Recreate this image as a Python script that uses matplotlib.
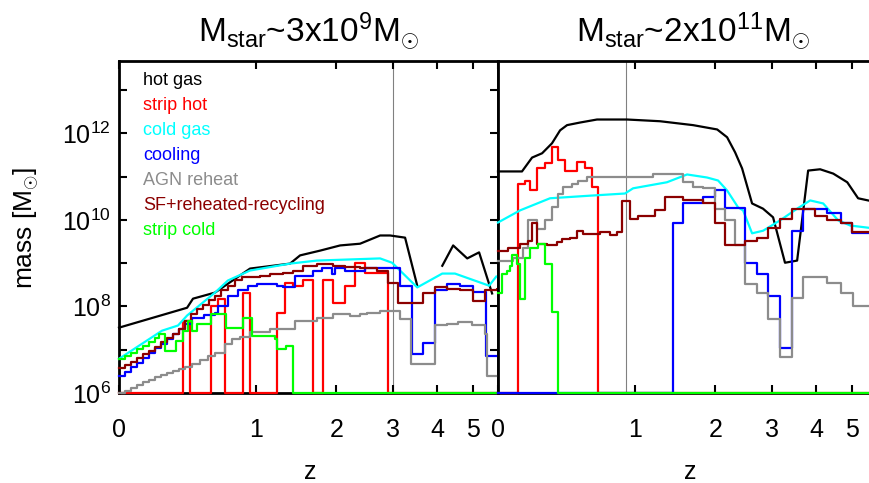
import numpy as np
import matplotlib
matplotlib.use("Agg")
import matplotlib.pyplot as plt

plt.rcParams['font.family'] = ['Liberation Sans', 'DejaVu Sans']
plt.rcParams['mathtext.fontset'] = 'custom'
plt.rcParams['mathtext.rm'] = 'Liberation Sans'
plt.rcParams['mathtext.it'] = 'Liberation Sans:italic'
plt.rcParams['mathtext.bf'] = 'Liberation Sans:bold'

# ---------------- left panel: Mstar ~ 3e9 (z, log10 mass) ----------------
hot_l_z = [0, 0.411, 0.454, 0.625, 0.940, 1.375, 1.499, 1.765, 2.06, 2.385, 2.746, 2.94, 3.25, 3.52,
           3.80, 4.13, 4.42, 4.82, 5.18, 5.60]
hot_l_m = [7.51, 7.97, 8.18, 8.32, 8.875, 8.99, 9.18, 9.29, 9.41, 9.45, 9.64, 9.64, 9.59, 8.48,
           np.nan, 8.94, 9.41, 9.11, 9.25, 8.30]

cold_l_z = [0, 0.243, 0.348, 0.411, 0.625, 0.735, 0.940, 1.375, 1.72, 2.746, 2.98, 3.52, 4.13, 4.47, 5.50, 5.74]
cold_l_m = [6.79, 7.44, 7.56, 7.79, 8.32, 8.60, 8.83, 8.99, 9.06, 9.11, 9.01, 8.44, 8.76, 8.76, 8.48, 8.69]

striphot_l_z = [0, 0.382, 0.432, 0.593, 0.650, 0.710, 0.873, 0.940, 1.224, 1.316, 1.412, 1.537, 1.668,
                1.807, 1.953, 2.14, 2.30, 2.47, 2.90]
striphot_l_m = [6.0, 7.67, 6.0, 8.00, 8.18, 6.0, 8.30, 6.0, 7.86, 8.55, 8.48, 8.60, 6.0,
                8.60, 8.09, 8.48, 9.01, 8.78, 6.0]

cool_l_z = [0, 0.031, 0.063, 0.095, 0.129, 0.164, 0.200, 0.237, 0.275, 0.314,
            0.355, 0.396, 0.446, 0.537, 0.625, 0.650, 0.735, 0.826, 0.920, 1.010,
            1.224, 1.293, 1.436, 1.668, 1.793, 1.938, 1.983, 2.14, 2.47, 2.71,
            3.15, 3.40, 3.66, 3.95, 4.26, 4.62, 5.00, 5.40]
cool_l_m = [6.40, 6.49, 6.61, 6.70, 6.81, 6.93, 7.05, 7.14, 7.25, 7.37,
            7.49, 7.60, 7.74, 7.81, 7.86, 8.02, 8.25, 8.37, 8.48, 8.53,
            8.48, 8.44, 8.71, 8.83, 8.88, 8.76, 8.88, 8.83, 8.88, 8.90,
            8.48, 6.91, 7.16, 8.37, 8.53, 8.48, 8.34, 6.86]

agn_l_z = [0, 0.031, 0.063, 0.095, 0.129, 0.164, 0.200, 0.237, 0.275, 0.314,
           0.355, 0.396, 0.446, 0.507, 0.569, 0.625, 0.710, 0.771, 0.844, 0.940,
           1.146, 1.436, 1.72, 1.953, 2.22, 2.385, 2.50, 2.746, 3.15, 3.38,
           3.95, 4.26, 4.56, 4.97, 5.37, 5.44]
agn_l_m = [6.0, 6.05, 6.12, 6.19, 6.26, 6.31, 6.38, 6.42, 6.47, 6.51,
           6.56, 6.61, 6.68, 6.77, 6.86, 6.93, 7.14, 7.25, 7.30, 7.42,
           7.49, 7.67, 7.74, 7.83, 7.79, 7.83, 7.86, 7.90, 7.72, 6.68,
           7.56, 7.60, 7.63, 7.56, 7.37, 6.40]

sf_l_z = [0, 0.031, 0.063, 0.095, 0.129, 0.164, 0.200, 0.237, 0.275, 0.314,
          0.355, 0.396, 0.439, 0.484, 0.529, 0.577, 0.625, 0.675, 0.735, 0.798,
          0.863, 0.940, 1.041, 1.146, 1.293, 1.412, 1.537, 1.72, 1.953, 2.14,
          2.385, 2.69, 2.90, 3.10, 3.66, 3.95, 4.26, 4.62, 5.00, 5.37, 5.75]
sf_l_m = [6.58, 6.65, 6.72, 6.81, 6.91, 6.98, 7.07, 7.19, 7.28, 7.37,
          7.49, 7.67, 7.83, 7.93, 8.04, 8.16, 8.25, 8.37, 8.48, 8.60,
          8.67, 8.69, 8.71, 8.74, 8.78, 8.83, 8.94, 8.97, 8.94, 8.92,
          8.88, 8.83, 8.55, 8.09, 8.32, 8.44, 8.41, 8.37, 8.13, 8.37, 8.41]

stripcold_l_z = [0, 0.031, 0.063, 0.095, 0.129, 0.164, 0.200, 0.224, 0.262, 0.335,
                 0.382, 0.418, 0.446, 0.484, 0.593, 0.718, 0.873, 0.960, 1.201, 1.224,
                 1.328, 1.412]
stripcold_l_m = [6.79, 6.86, 6.93, 7.02, 7.09, 7.19, 7.28, 7.37, 6.98, 7.21,
                 7.44, 7.67, 7.44, 7.60, 7.83, 7.51, 7.74, 7.32, 7.25, 7.02,
                 7.09, 6.0]

# ---------------- right panel: Mstar ~ 2e11 ----------------
hot_r_z = [0, 0.129, 0.188, 0.250, 0.314, 0.369, 0.418, 0.514, 0.650, 0.920,
           1.27, 1.682, 2.03, 2.186, 2.318, 2.437, 2.615, 2.82, 3.02, 3.27,
           3.54, 3.80, 4.10, 4.45, 4.85, 5.18, 5.50]
hot_r_m = [11.12, 11.12, 11.44, 11.54, 11.77, 12.07, 12.19, 12.25, 12.32, 12.32,
           12.28, 12.19, 12.09, 11.91, 11.56, 11.19, 10.38, 10.26, 10.06, 9.01,
           9.06, 11.14, 11.17, 11.07, 10.87, 10.50, 10.45]

cold_r_z = [0, 0.118, 0.301, 0.593, 0.901, 0.980, 1.35, 1.602, 1.878, 2.044,
            2.186, 2.368, 2.454, 2.615, 2.822, 3.166, 3.54, 3.85, 4.18, 4.587,
            4.94, 5.50]
cold_r_m = [9.94, 10.22, 10.50, 10.56, 10.61, 10.73, 10.87, 11.05, 10.98, 10.91,
            10.68, 10.29, 10.22, 9.69, 9.75, 9.99, 10.26, 10.45, 10.38, 9.99,
            9.87, 9.82]

striphot_r_z = [0, 0.107, 0.147, 0.176, 0.218, 0.268, 0.314, 0.355, 0.404, 0.491, 0.553, 0.609, 0.658]
striphot_r_m = [6.0, 10.84, 10.91, 10.68, 11.19, 11.31, 11.68, 11.38, 11.14, 11.33, 11.19, 10.75, 6.0]

cool_r_z = [0, 1.424, 1.550, 1.821, 1.998, 2.16, 2.49, 2.71, 2.92, 3.166, 3.426, 3.68, 4.28, 4.66, 5.00]
cool_r_m = [6.0, 9.92, 10.38, 10.52, 10.68, 10.27, 9.01, 8.76, 8.25, 7.05, 9.75, 10.26, 10.17, 9.94, 9.69]

agn_r_z = [0, 0.079, 0.135, 0.164, 0.218, 0.268, 0.314, 0.355, 0.389, 0.454,
           0.499, 0.569, 0.617, 0.882, 1.051, 1.190, 1.550, 1.682, 1.821, 1.998,
           2.16, 2.318, 2.49, 2.71, 2.92, 3.166, 3.426, 3.68, 4.28, 4.66, 5.03]
agn_r_m = [9.06, 9.11, 9.36, 9.99, 9.80, 9.99, 10.29, 10.61, 10.75, 10.84,
           10.91, 10.98, 11.00, 10.98, 11.00, 11.05, 10.87, 10.77, 10.73, 10.26,
           9.99, 9.43, 8.53, 8.30, 7.72, 6.84, 8.20, 8.67, 8.55, 8.30, 8.02]

sf_r_z = [0, 0.052, 0.118, 0.164, 0.188, 0.218, 0.281, 0.348, 0.382, 0.439,
          0.491, 0.537, 0.675, 0.762, 0.826, 0.873, 0.950, 1.030, 1.213, 1.328,
          1.550, 1.821, 1.998, 2.16, 2.49, 2.71, 2.92, 3.166, 3.426, 3.97,
          4.28, 4.66, 5.00]
sf_r_m = [9.29, 9.36, 9.45, 9.52, 9.92, 9.45, 9.41, 9.48, 9.57, 9.59,
          9.75, 9.68, 9.71, 9.64, 9.71, 10.43, 10.01, 10.08, 10.24, 10.52,
          10.45, 10.38, 9.92, 9.43, 9.52, 9.59, 9.82, 10.03, 10.26, 10.10,
          9.99, 9.92, 9.71]

stripcold_r_z = [0, 0.020, 0.047, 0.063, 0.073, 0.101, 0.118, 0.147, 0.176, 0.224, 0.268, 0.314, 0.355]
stripcold_r_m = [8.32, 8.76, 8.83, 8.94, 9.18, 8.99, 8.18, 9.11, 9.34, 9.45, 8.99, 7.88, 6.0]

zline_left = 3.0
zline_right = 0.91
zmax = 5.8

labels = ['hot gas', 'strip hot', 'cold gas', 'cooling', 'AGN reheat', 'SF+reheated-recycling', 'strip cold']
colors = ['black', '#ff0000', '#00ffff', '#0000ff', '#8c8c8c', '#8b0000', '#00ff00']
titles = [r'M$_{\rm star}$~3x10$^{9}$M$_{\odot}$', r'M$_{\rm star}$~2x10$^{11}$M$_{\odot}$']


def fwd(z):
    return np.log10(np.maximum(1 + np.asarray(z, dtype=float), 1e-6))


def inv(u):
    return 10 ** np.asarray(u, dtype=float) - 1


def line(ax, z, m, c):
    ax.plot(z, 10 ** np.array(m), color=c, lw=1.6, clip_on=False, zorder=3)


def step(ax, z, m, c):
    zz = list(z) + [zmax]
    mm = 10 ** np.append(m, m[-1])
    ax.plot(zz, mm, color=c, lw=1.6, drawstyle='steps-post', clip_on=False, zorder=3)


fig = plt.figure(figsize=(8.69, 4.83), dpi=100)
W, H = 869.0, 483.0
axl = fig.add_axes([119 / W, 1 - 393 / H, 379 / W, 332 / H])
axr = fig.add_axes([498 / W, 1 - 393 / H, 379 / W, 332 / H])

panels = [
    (axl, hot_l_z, hot_l_m, striphot_l_z, striphot_l_m, cold_l_z, cold_l_m, cool_l_z, cool_l_m,
     agn_l_z, agn_l_m, sf_l_z, sf_l_m, stripcold_l_z, stripcold_l_m, zline_left),
    (axr, hot_r_z, hot_r_m, striphot_r_z, striphot_r_m, cold_r_z, cold_r_m, cool_r_z, cool_r_m,
     agn_r_z, agn_r_m, sf_r_z, sf_r_m, stripcold_r_z, stripcold_r_m, zline_right),
]

for (ax, hz, hm, shz, shm, cz, cm, clz, clm, az, am, sz, sm, scz, scm, zl) in panels:
    ax.set_xscale('function', functions=(fwd, inv))
    ax.set_yscale('log')
    ax.set_xlim(0, zmax)
    ax.set_ylim(1e6, 4.7e13)
    ax.axvline(zl, color='#808080', lw=0.8, zorder=1)
    line(ax, hz, hm, colors[0])
    step(ax, shz, shm, colors[1])
    line(ax, cz, cm, colors[2])
    step(ax, clz, clm, colors[3])
    step(ax, az, am, colors[4])
    step(ax, sz, sm, colors[5])
    step(ax, scz, scm, colors[6])

    ax.set_xticks([0, 1, 2, 3, 4, 5])
    ax.set_xticklabels(['0', '1', '2', '3', '4', '5'])
    ax.xaxis.set_minor_locator(matplotlib.ticker.NullLocator())
    ax.set_yticks([10.0 ** k for k in range(6, 14)])
    ax.set_yticklabels([r'$10^{%d}$' % k if k % 2 == 0 else '' for k in range(6, 14)])
    ax.yaxis.set_minor_locator(matplotlib.ticker.NullLocator())
    for s in ax.spines.values():
        s.set_linewidth(2)
    ax.tick_params(axis='x', direction='in', length=6, width=1.5, top=True, labelsize=18, pad=18)
    ax.tick_params(axis='y', direction='in', length=6, width=1.5, right=True, labelsize=18, pad=6)

axr.tick_params(axis='y', left=False, labelleft=False)

# legend as coloured text
for i, (lab, c) in enumerate(zip(labels, colors)):
    axl.text(143 / W, 1 - (85 + 25 * i) / H, lab, color=c, fontsize=13,
             transform=fig.transFigure, ha='left', va='baseline')

fig.text(308 / W, 1 - 42 / H, titles[0], fontsize=24, ha='center', va='baseline')
fig.text(693 / W, 1 - 42 / H, titles[1], fontsize=24, ha='center', va='baseline')
fig.text(310 / W, 1 - 472 / H, 'z', fontsize=18, ha='center', va='center')
fig.text(690 / W, 1 - 472 / H, 'z', fontsize=18, ha='center', va='center')
fig.text(26 / W, 1 - 228 / H, r'mass [M$_{\odot}$]', fontsize=19, rotation=90, ha='center', va='center')

fig.savefig('out.png', dpi=100)
